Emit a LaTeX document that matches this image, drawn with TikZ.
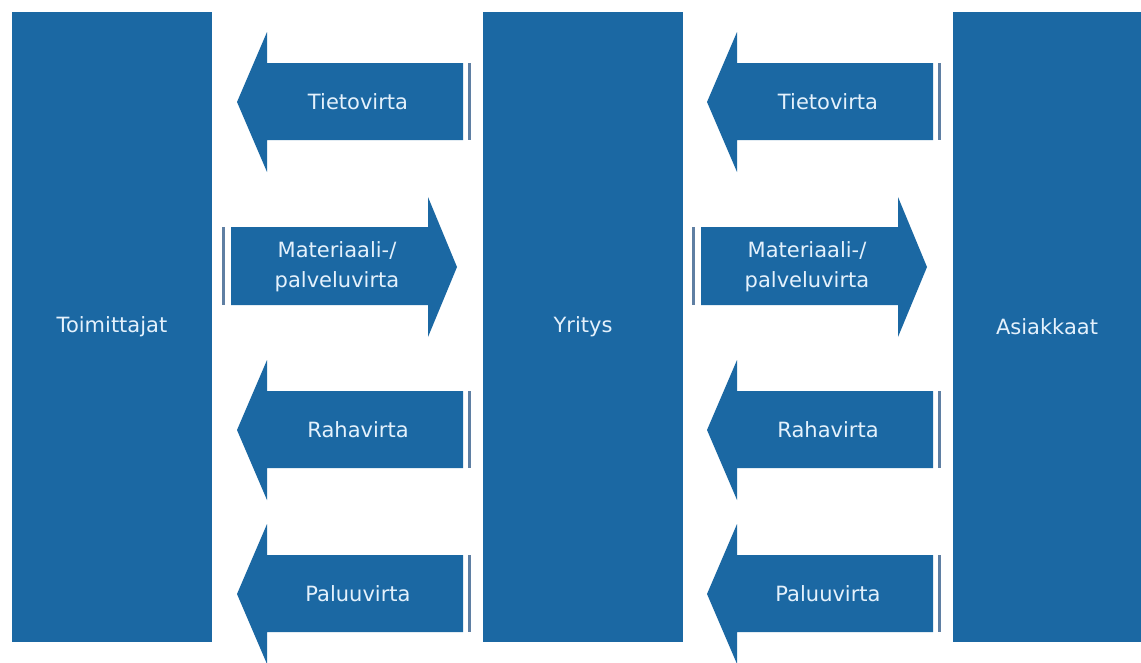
\documentclass[tikz,border=0pt]{standalone}
\usepackage{fontspec}
\setmainfont{DejaVu Sans}
\definecolor{flowblue}{HTML}{1B68A3}
\definecolor{bargrey}{HTML}{5F7FA3}
\definecolor{txtlight}{HTML}{E4F1FC}
\newcommand{\flowleft}[4]{% #1 name, #2 x offset, #3 centre y, #4 text
  \fill[flowblue] (#2+237,#3) -- (#2+267,#3-70) -- (#2+267,#3-39) -- (#2+463,#3-39)
    -- (#2+463,#3+38) -- (#2+267,#3+38) -- (#2+267,#3+70) -- cycle;
  \fill[bargrey] (#2+468,#3-39) rectangle (#2+471,#3+38);
  \node[lbl] (#1) at (#2+358,#3) {#4};}
\newcommand{\flowright}[4]{%
  \fill[flowblue] (#2+457,#3) -- (#2+428,#3-70) -- (#2+428,#3-40) -- (#2+231,#3-40)
    -- (#2+231,#3+38) -- (#2+428,#3+38) -- (#2+428,#3+70) -- cycle;
  \fill[bargrey] (#2+222,#3-40) rectangle (#2+225,#3+38);
  \node[lbl] (#1) at (#2+337,#3) {#4};}
\begin{document}
\begin{tikzpicture}[x=1pt,y=-1pt,
  lbl/.style={text=txtlight,font=\fontsize{21}{30}\selectfont,align=center,inner sep=0pt},
  party/.style={fill=flowblue,minimum width=200pt,minimum height=630pt,inner sep=0pt,
    text=txtlight,font=\fontsize{21}{30}\selectfont}]
\useasboundingbox (0,0) rectangle (1141,662);
\fill[white] (0,0) rectangle (1141,662);
\node[party] (toim) at (112,327) {Toimittajat};
\node[party] (yri) at (583,327) {Yritys};
\fill[flowblue] (953,12) rectangle (1141,642);
\node[lbl] (asi) at (1047,327) {Asiakkaat};
\flowleft{t1}{0}{102}{Tietovirta}
\flowright{m1}{0}{267}{Materiaali-/\\palveluvirta}
\flowleft{r1}{0}{430}{Rahavirta}
\flowleft{p1}{0}{594}{Paluuvirta}
\flowleft{t2}{470}{102}{Tietovirta}
\flowright{m2}{470}{267}{Materiaali-/\\palveluvirta}
\flowleft{r2}{470}{430}{Rahavirta}
\flowleft{p2}{470}{594}{Paluuvirta}
\end{tikzpicture}
\end{document}
